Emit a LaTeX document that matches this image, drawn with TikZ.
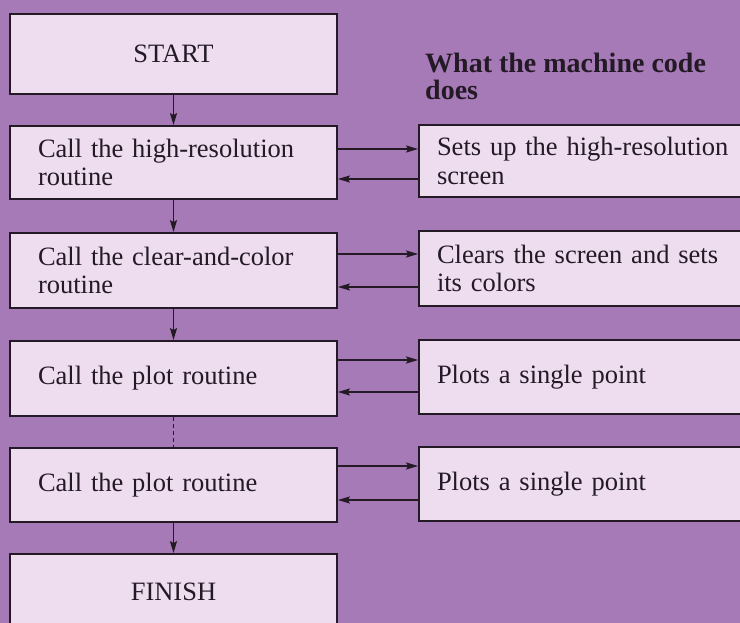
\documentclass[tikz,border=0pt]{standalone}
\usepackage{fontspec}
\setmainfont{Liberation Serif}[WordSpace=0.8]
\newfontfamily\headfont{Liberation Serif}
\usetikzlibrary{arrows.meta}
\definecolor{bgpurple}{RGB}{166,122,182}
\definecolor{boxfill}{RGB}{238,221,238}
\definecolor{ink}{RGB}{36,26,38}
\begin{document}
\begin{tikzpicture}[x=1pt,y=-1pt,
  box/.style={draw=ink, line width=1.8pt, fill=boxfill, rectangle, inner ysep=0pt,
              font=\fontsize{26.5}{28.5}\selectfont, text=ink},
  lbox/.style={box, minimum width=327pt, text width=271pt, inner xsep=28pt, align=left},
  cbox/.style={box, minimum width=327pt, text width=271pt, inner xsep=28pt, align=center},
  rbox/.style={box, minimum width=341pt, text width=305pt, inner xsep=18pt, align=left},
  conn/.style={draw=ink, line width=1.8pt, -{Stealth[length=12pt,width=7pt,inset=2pt]}},
  dashconn/.style={draw=ink, line width=1.8pt, dash pattern=on 4pt off 3pt},
  head/.style={font=\headfont\bfseries\fontsize{28}{27}\selectfont, text=ink, align=left, inner sep=0pt}]
\useasboundingbox (0,0) rectangle (740,623);
\fill[bgpurple] (0,0) rectangle (740,623);
\clip (0,0) rectangle (740,623);

% left column
\node[cbox, minimum height=80pt] (start) at (173.5,54) {START};
\node[lbox, minimum height=73pt] (hr) at (173.5,162.5) {Call the high-resolution\\routine};
\node[lbox, minimum height=75pt] (cc) at (173.5,270.5) {Call the clear-and-color\\routine};
\node[lbox, minimum height=75pt] (p1) at (173.5,378.5) {Call the plot routine};
\node[lbox, minimum height=74pt] (p2) at (173.5,485) {Call the plot routine};
\node[cbox, minimum height=76pt] (finish) at (173.5,592) {FINISH};

% right column
\node[head, anchor=north west] (heading) at (425,53) {What the machine code\\does};
\node[rbox, minimum height=72pt] (r1) at (589.5,161) {Sets up the high-resolution\\screen};
\node[rbox, minimum height=75pt] (r2) at (589.5,268.5) {Clears the screen and sets\\its colors};
\node[rbox, minimum height=74pt] (r3) at (589.5,377) {Plots a single point};
\node[rbox, minimum height=74pt] (r4) at (589.5,484) {Plots a single point};

% vertical connectors
\draw[conn] (start.south) -- (hr.north);
\draw[conn] (hr.south) -- (cc.north);
\draw[conn] (cc.south) -- (p1.north);
\draw[dashconn] (p1.south) -- (p2.north);
\draw[conn] (p2.south) -- (finish.north);

% horizontal connectors
\coordinate (a1) at ([yshift=13.5pt]hr.east);
\coordinate (b1) at ([yshift=-16.5pt]hr.east);
\coordinate (a2) at ([yshift=16.5pt]cc.east);
\coordinate (b2) at ([yshift=-16.5pt]cc.east);
\coordinate (a3) at ([yshift=18.5pt]p1.east);
\coordinate (b3) at ([yshift=-13.5pt]p1.east);
\coordinate (a4) at ([yshift=19pt]p2.east);
\coordinate (b4) at ([yshift=-15pt]p2.east);

\draw[conn] (a1) -- (a1 -| r1.west);
\draw[conn] (b1 -| r1.west) -- (b1);
\draw[conn] (a2) -- (a2 -| r2.west);
\draw[conn] (b2 -| r2.west) -- (b2);
\draw[conn] (a3) -- (a3 -| r3.west);
\draw[conn] (b3 -| r3.west) -- (b3);
\draw[conn] (a4) -- (a4 -| r4.west);
\draw[conn] (b4 -| r4.west) -- (b4);
\end{tikzpicture}
\end{document}
